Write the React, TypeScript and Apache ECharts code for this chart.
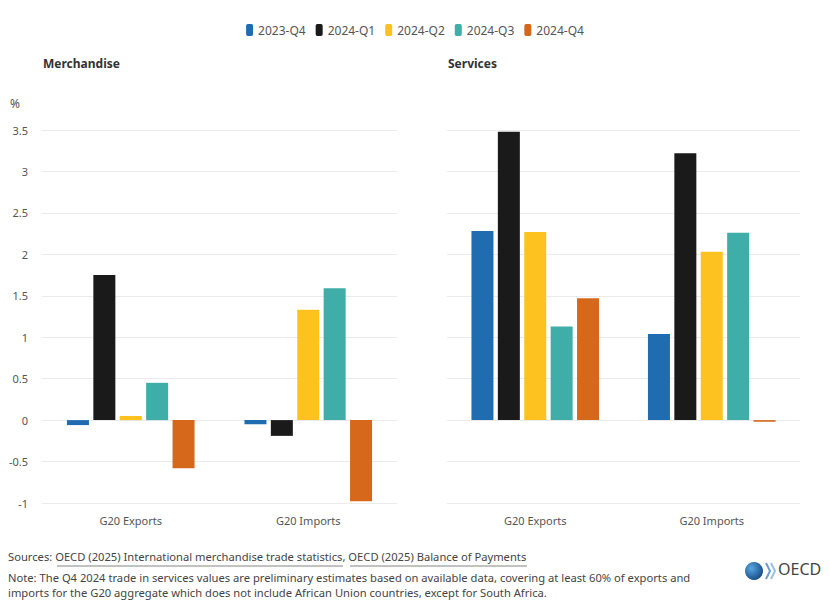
import React, { useEffect, useRef } from "react";
import * as echarts from "echarts";

const categories = ["G20 Exports", "G20 Imports"];
const seriesNames = ["2023-Q4", "2024-Q1", "2024-Q2", "2024-Q3", "2024-Q4"];
const colors = ["#1f6db0", "#1a1a1a", "#fdc220", "#3fada8", "#d6681c"];
// values per quarter: [Exports, Imports]
const merchandise = [
  [-0.06, -0.05],
  [1.75, -0.19],
  [0.05, 1.33],
  [0.45, 1.59],
  [-0.58, -0.98],
];
const services = [
  [2.28, 1.04],
  [3.48, 3.22],
  [2.27, 2.03],
  [1.13, 2.26],
  [1.47, -0.02],
];
const yMin = -1;
const yMax = 3.5;
const yInterval = 0.5;

const FONT = "'Noto Sans', 'Open Sans', sans-serif";

export default function App() {
  const ref = useRef<HTMLDivElement>(null);
  useEffect(() => {
    if (!ref.current) return;
    const chart = echarts.init(ref.current, null, { renderer: "svg" });
    const mkY = (idx: number, show: boolean) => ({
      type: "value",
      gridIndex: idx,
      min: yMin,
      max: yMax,
      interval: yInterval,
      axisLine: { show: false },
      axisTick: { show: false },
      axisLabel: {
        show,
        color: "#555",
        fontSize: 11,
        fontFamily: FONT,
        margin: 14,
      },
      splitLine: { lineStyle: { color: "#ebebeb", width: 1 } },
    });
    const mkX = (idx: number) => ({
      type: "category",
      gridIndex: idx,
      data: categories,
      position: "bottom",
      axisLine: { show: false, onZero: false },
      axisTick: { show: false },
      axisLabel: { color: "#555", fontSize: 11, fontFamily: FONT, margin: 12 },
    });
    const series: any[] = [];
    [merchandise, services].forEach((set, g) => {
      set.forEach((vals, i) => {
        series.push({
          type: "bar",
          name: seriesNames[i],
          xAxisIndex: g,
          yAxisIndex: g,
          data: vals,
          barWidth: 22,
          barGap: "20%",
          itemStyle: { color: colors[i] },
        });
      });
    });
    chart.setOption({
      animation: false,
      color: colors,
      legend: {
        data: seriesNames,
        top: 19,
        left: "center",
        icon: "roundRect",
        itemWidth: 7,
        itemHeight: 12,
        itemGap: 10,
        textStyle: { color: "#555", fontSize: 12, fontFamily: FONT },
      },
      grid: [
        { left: 42, right: 433, top: 130, bottom: 98 },
        { left: 447, right: 30, top: 130, bottom: 98 },
      ],
      xAxis: [mkX(0), mkX(1)],
      yAxis: [mkY(0, true), mkY(1, false)],
      series,
      graphic: [
        {
          type: "text",
          left: 43,
          top: 57,
          style: { text: "Merchandise", fontSize: 12, fontWeight: "bold", fill: "#333", fontFamily: FONT },
        },
        {
          type: "text",
          left: 448,
          top: 57,
          style: { text: "Services", fontSize: 12, fontWeight: "bold", fill: "#333", fontFamily: FONT },
        },
        {
          type: "text",
          left: 10,
          top: 97,
          style: { text: "%", fontSize: 12, fill: "#555", fontFamily: FONT },
        },
        {
          type: "text",
          left: 8,
          top: 551,
          style: {
            text: "Sources: OECD (2025) International merchandise trade statistics, OECD (2025) Balance of Payments",
            fontSize: 11.2,
            fill: "#444",
            fontFamily: FONT,
          },
        },
        {
          type: "text",
          left: 8,
          top: 570,
          style: {
            text:
              "Note: The Q4 2024 trade in services values are preliminary estimates based on available data, covering at least 60% of exports and\nimports for the G20 aggregate which does not include African Union countries, except for South Africa.",
            fontSize: 11.2,
            lineHeight: 15,
            fill: "#444",
            fontFamily: FONT,
          },
        },
        {
          type: "line",
          shape: { x1: 57, y1: 566, x2: 343, y2: 566 },
          style: { stroke: "#666", lineWidth: 0.8 },
        },
        {
          type: "line",
          shape: { x1: 350, y1: 566, x2: 527, y2: 566 },
          style: { stroke: "#666", lineWidth: 0.8 },
        },
        {
          type: "circle",
          shape: { cx: 754, cy: 571, r: 9 },
          style: {
            fill: new echarts.graphic.RadialGradient(0.35, 0.35, 0.8, [
              { offset: 0, color: "#5aa7e0" },
              { offset: 1, color: "#0b3f7a" },
            ]),
          },
        },
        {
          type: "polyline",
          shape: { points: [[766, 563], [770, 571], [766, 579]] },
          style: { stroke: "#6b9fd0", lineWidth: 2, fill: "none" },
        },
        {
          type: "polyline",
          shape: { points: [[771, 563], [775, 571], [771, 579]] },
          style: { stroke: "#9ac0e2", lineWidth: 2, fill: "none" },
        },
        {
          type: "text",
          left: 778,
          top: 561,
          style: { text: "OECD", fontSize: 16, fill: "#444", fontFamily: FONT },
        },
      ],
    });
    return () => chart.dispose();
  }, []);
  return <div ref={ref} style={{ width: 830, height: 601, position: "absolute", left: 0, top: 0 }} />;
}
